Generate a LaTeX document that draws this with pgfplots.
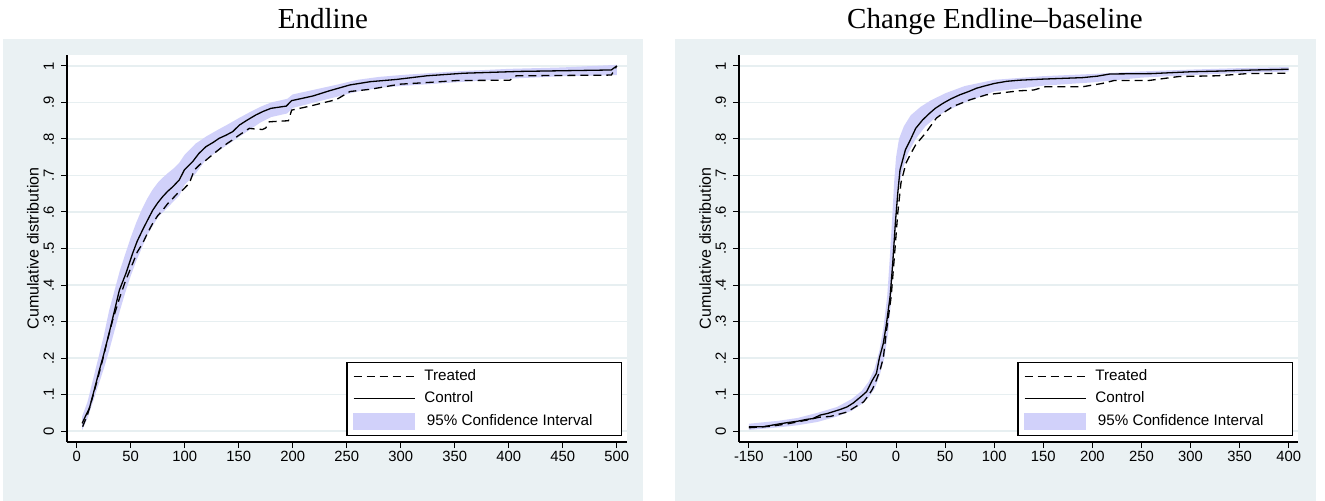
\documentclass[border=0pt]{standalone}
\usepackage{fontspec}
\setmainfont{Liberation Sans}
\newfontfamily\titlefont{Liberation Serif}
\usepackage{pgfplots}
\pgfplotsset{compat=1.18}
\definecolor{bgc}{RGB}{234,241,243}
\definecolor{gridc}{RGB}{231,239,241}
\definecolor{band}{RGB}{209,209,250}

\pgfplotsset{
  statastyle/.style={
    scale only axis, height=193.5pt,
    axis x line=bottom, axis y line=left,
    axis line style={-, line width=0.6pt, black},
    tick align=outside, major tick length=3pt,
    tick style={black, line width=0.5pt},
    ymin=-0.03, ymax=1.03,
    ytick={0,0.1,0.2,0.3,0.4,0.5,0.6,0.7,0.8,0.9,1},
    yticklabels={0,.1,.2,.3,.4,.5,.6,.7,.8,.9,1},
    ymajorgrids, grid style={gridc, line width=0.8pt},
    yticklabel style={rotate=90, anchor=south, font=\fontsize{7.4}{8}\selectfont},
    xticklabel style={font=\fontsize{7.4}{8}\selectfont, yshift=2pt},
    ylabel style={font=\fontsize{8}{9}\selectfont, at={(axis description cs:-0.0607,0.5)}, anchor=center},
    ylabel={Cumulative distribution},
    axis background/.style={fill=white},
    legend style={at={(0.991,0.0155)}, anchor=south east, draw=black, line width=0.6pt, fill=white,
      font=\fontsize{7.6}{9}\selectfont, row sep=0.3pt, inner xsep=3pt, inner ysep=1.5pt, cells={anchor=west}},
  },
  ctrl/.style={black, line width=0.65pt},
  treat/.style={black, line width=0.65pt, dash pattern=on 4pt off 2.5pt},
  lineleg/.style={legend image code/.code={\draw[##1] (0pt,0pt) -- (30.5pt,0pt);}},
}
\newcommand{\legtext}[1]{\hspace*{2.5pt}#1}

\begin{document}
\begin{tikzpicture}
\fill[bgc] (1.5pt,-19.5pt) rectangle (321.5pt,-250.5pt);
\fill[bgc] (337.5pt,-19.5pt) rectangle (658pt,-250.5pt);
\node[font=\titlefont\fontsize{14.5}{16}\selectfont, anchor=base] at (161.5pt,-14.3pt) {Endline};
\node[font=\titlefont\fontsize{14.5}{16}\selectfont, anchor=base] at (497.5pt,-14.3pt) {Change Endline–baseline};

% ---------------- Left panel ----------------
\begin{axis}[statastyle, at={(33.5pt,-221pt)}, anchor=south west, width=280pt,
  xmin=-9, xmax=509.5,
  xtick={0,50,100,150,200,250,300,350,400,450,500},
  xticklabels={0,50,100,150,200,250,300,350,400,450,500}]
\addplot[fill=band, draw=none, forget plot] coordinates {
(5,0.04) (10,0.08) (15,0.14) (20,0.2) (25,0.26) (30,0.33) (35,0.385) (40,0.44) (45,0.485) (50,0.53)
(55,0.57) (60,0.605) (65,0.635) (70,0.66) (75,0.68) (80,0.695) (85,0.708) (90,0.72) (95,0.735)
(100,0.757) (105,0.772) (110,0.787) (120,0.807) (130,0.824) (140,0.84) (150,0.857) (160,0.873)
(170,0.888) (180,0.90) (195,0.91) (200,0.922) (220,0.935) (240,0.948) (260,0.962) (280,0.97)
(300,0.975) (350,0.985) (400,0.992) (450,0.996) (500,1.003)
(500,0.975) (450,0.972) (400,0.965) (350,0.955) (300,0.945) (280,0.94) (260,0.93) (240,0.915)
(220,0.90) (200,0.885) (195,0.87) (180,0.86) (170,0.845) (160,0.825) (150,0.805) (140,0.785)
(130,0.765) (120,0.745) (110,0.705) (105,0.69) (100,0.675) (95,0.645) (90,0.63) (85,0.615)
(80,0.60) (75,0.585) (70,0.56) (65,0.535) (60,0.50) (55,0.465) (50,0.425) (45,0.38) (40,0.33)
(35,0.275) (30,0.22) (25,0.17) (20,0.125) (15,0.08) (10,0.035) (5,0.003)} -- cycle;
\addplot[treat, lineleg] coordinates {
(5.5,0.012) (10,0.045) (14.8,0.094) (20,0.15) (24,0.195) (28.5,0.25) (33.3,0.304) (39.5,0.363)
(45,0.41) (51.8,0.459) (56,0.49) (61,0.514) (66,0.545) (70.4,0.569) (75,0.59) (79.6,0.605)
(84,0.622) (88.9,0.637) (93,0.65) (98.1,0.660) (104.3,0.679) (108.9,0.715) (114,0.73) (119.7,0.742)
(127,0.76) (135,0.779) (143,0.795) (150.6,0.811) (159.8,0.829) (166,0.827) (172,0.826) (175,0.83)
(178.3,0.847) (196,0.850) (199,0.879) (216,0.890) (240.5,0.908) (253,0.930) (271.6,0.936)
(299,0.950) (327,0.955) (352,0.960) (401,0.961) (407,0.973) (495,0.975) (500,1.0)};
\addlegendentry{\legtext{Treated}}
\addplot[ctrl, lineleg] coordinates {
(5,0.021) (8,0.04) (11.7,0.062) (16,0.11) (21,0.167) (25,0.21) (30,0.268) (35,0.33) (39.5,0.386)
(45.6,0.432) (51.8,0.487) (56,0.52) (61,0.551) (66,0.58) (70.4,0.605) (75,0.625) (79.6,0.642)
(84,0.656) (88.9,0.669) (95,0.688) (99.6,0.715) (103,0.725) (107.4,0.738) (113,0.76) (119.7,0.779)
(126,0.79) (132,0.802) (138,0.81) (144.4,0.820) (150.6,0.838) (158,0.852) (166,0.866) (173,0.876)
(180,0.884) (194,0.890) (199,0.905) (210,0.912) (219,0.918) (234,0.932) (253,0.948) (272,0.957)
(296,0.963) (324,0.973) (358,0.980) (410,0.985) (495,0.989) (500,1.0)};
\addlegendentry{\legtext{Control}}
\addlegendimage{legend image code/.code={\fill[band] (0pt,-4pt) rectangle (30.5pt,4pt);}}
\addlegendentry{\legtext{\makebox[93.5pt][l]{\,95\% Confidence Interval}}}
\end{axis}

% ---------------- Right panel ----------------
\begin{axis}[statastyle, at={(369.5pt,-221pt)}, anchor=south west, width=279.5pt,
  xmin=-160, xmax=409.5,
  xtick={-150,-100,-50,0,50,100,150,200,250,300,350,400},
  xticklabels={-150,-100,-50,0,50,100,150,200,250,300,350,400}]
\addplot[fill=band, draw=none, forget plot] coordinates {
(-150,0.020) (-120,0.028) (-100,0.036) (-80,0.05) (-60,0.066) (-45,0.088) (-35,0.11) (-28,0.135)
(-22,0.17) (-17,0.22) (-13,0.28) (-9,0.37) (-6.5,0.47) (-4,0.58) (-2,0.68) (0,0.75) (3,0.80)
(8,0.835) (15,0.865) (25,0.888) (35,0.905) (50,0.925) (70,0.945) (100,0.962) (150,0.972)
(200,0.978) (250,0.985) (300,0.99) (350,0.994) (400,0.997)
(400,0.985) (350,0.981) (300,0.975) (250,0.968) (200,0.955) (150,0.946) (100,0.93) (70,0.900)
(50,0.875) (40,0.858) (30,0.835) (20,0.80) (12,0.76) (6,0.71) (2.5,0.66) (0,0.58) (-2.5,0.47)
(-5,0.36) (-8,0.27) (-12,0.2) (-17,0.15) (-22,0.115) (-28,0.092) (-35,0.074) (-45,0.056)
(-60,0.040) (-80,0.025) (-100,0.016) (-120,0.010) (-150,0.003)} -- cycle;
\addplot[treat, lineleg] coordinates {
(-150,0.009) (-128,0.013) (-110,0.020) (-91,0.030) (-78,0.038) (-67,0.040) (-57,0.047) (-50,0.052)
(-44,0.062) (-33,0.080) (-28,0.098) (-24,0.115) (-20,0.140) (-16,0.170) (-13,0.20) (-10,0.27)
(-5,0.368) (-1.7,0.478) (1.7,0.596) (5,0.68) (10,0.733) (15,0.76) (20,0.784) (30,0.816)
(41,0.857) (50,0.875) (58,0.889) (75,0.907) (92,0.921) (113,0.928) (126,0.932) (140,0.934)
(152,0.943) (190,0.943) (210,0.952) (222,0.960) (257,0.960) (288,0.971) (327,0.973) (358,0.979)
(400,0.980)};
\addlegendentry{\legtext{Treated}}
\addplot[ctrl, lineleg] coordinates {
(-150,0.012) (-135,0.012) (-120,0.019) (-111,0.023) (-100,0.027) (-91,0.032) (-85,0.034)
(-77,0.044) (-70,0.048) (-57,0.059) (-50,0.066) (-43.5,0.077) (-35,0.096) (-30,0.108) (-24,0.140)
(-20,0.158) (-17,0.20) (-13,0.24) (-10,0.29) (-6,0.37) (-3.4,0.46) (-0.7,0.57) (1.7,0.65)
(4,0.715) (9.5,0.77) (15,0.80) (20,0.829) (27,0.852) (34,0.870) (40,0.884) (48,0.898) (56,0.910)
(65,0.921) (74,0.930) (82,0.939) (90,0.945) (100,0.952) (113,0.958) (126,0.961) (150,0.964)
(190,0.968) (205,0.972) (218,0.978) (260,0.979) (300,0.984) (330,0.986) (366,0.989) (400,0.991)};
\addlegendentry{\legtext{Control}}
\addlegendimage{legend image code/.code={\fill[band] (0pt,-4pt) rectangle (30.5pt,4pt);}}
\addlegendentry{\legtext{\makebox[93.5pt][l]{\,95\% Confidence Interval}}}
\end{axis}
\path (0,0) rectangle (662.5pt,-250.5pt);
\end{tikzpicture}
\end{document}
